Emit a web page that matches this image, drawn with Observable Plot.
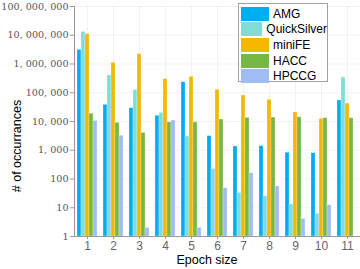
<!DOCTYPE html>
<html>
<head>
<meta charset="utf-8">
<script src="https://cdn.jsdelivr.net/npm/d3@7"></script>
<script src="https://cdn.jsdelivr.net/npm/@observablehq/plot@0.6"></script>
<style>
  body { margin: 0; background: #fff; }
  #wrap { position: relative; width: 360px; height: 269px; font-family: "Liberation Sans", Arial, sans-serif; }
  #legend { position: absolute; left: 238px; top: 3px; width: 90px; height: 79px; border: 1px solid #a0a0a0; background: #fff; box-sizing: border-box; padding: 2px 0 0 2px; }
  .row { display: flex; align-items: center; height: 15.6px; }
  .sw { width: 28px; height: 14px; margin-right: 4px; }
  .lab { font-size: 12px; color: #000; }
  #ytitle { position: absolute; left: 17px; top: 146px; transform: translate(-50%, -50%) rotate(-90deg); white-space: nowrap; font-size: 12.5px; color: #000; }
  #xtitle { position: absolute; left: 207px; top: 260px; transform: translate(-50%, -50%); white-space: nowrap; font-size: 12.5px; line-height: 13px; color: #000; }
</style>
</head>
<body>
<div id="wrap">
  <div id="chart"></div>
  <div id="legend"></div>
  <div id="ytitle"># of occurrances</div>
  <div id="xtitle">Epoch size</div>
</div>
<script>
const epochs = [1, 2, 3, 4, 5, 6, 7, 8, 9, 10, 11];
const series = ["AMG", "QuickSilver", "miniFE", "HACC", "HPCCG"];
const colors = ["#00aeef", "#80ddd6", "#f5b800", "#76b843", "#9fbdf3"];
const amg =         [3100000, 38000, 29000, 15800, 234000, 3100, 1350, 1400, 820, 790, 53700];
const quicksilver = [13000000, 400000, 123000, 20000, 3000, 225, 33, 25, 13, 6.2, 340000];
const minife =      [11000000, 1100000, 2200000, 295000, 360000, 126000, 80000, 57000, 20600, 12400, 42000];
const hacc =        [18600, 9000, 4000, 9300, 9300, 11700, 13400, 13800, 14000, 13000, 13000];
const hpccg =       [10500, 3200, 2, 10800, 2, 48, 160, 55, 4.1, 12.3, null];
const yTicks = [1, 10, 100, 1000, 10000, 100000, 1000000, 10000000, 100000000];

const valuesBySeries = [amg, quicksilver, minife, hacc, hpccg];
const rows = [];
epochs.forEach((e, i) => {
  series.forEach((s, j) => {
    const v = valuesBySeries[j][i];
    if (v != null) rows.push({epoch: e, series: s, value: v});
  });
});

const fmt = d => d3.format(",")(d).replace(/,/g, ", ");

const chart = Plot.plot({
  width: 360,
  height: 269,
  marginTop: 6,
  marginBottom: 33,
  marginLeft: 74,
  marginRight: 0,
  fx: {domain: epochs, padding: 0, label: null},
  x: {domain: series, axis: null, paddingInner: 0, paddingOuter: 0.75},
  y: {type: "log", domain: [1, 1e8]},
  color: {domain: series, range: colors},
  marks: [
    Plot.gridY(yTicks, {stroke: "#000", strokeOpacity: 0.05}),
    Plot.gridFx({stroke: "#000", strokeOpacity: 0.05}),
    Plot.barY(rows, {fx: "epoch", x: "series", y1: 1, y2: "value", fill: "series", stroke: "#fff", strokeOpacity: 0.45, strokeWidth: 0.6}),
    Plot.axisY(yTicks, {tickFormat: fmt, tickSize: 4, tickPadding: 2, stroke: "#999", fill: "#555", fontSize: 9.6, fontFamily: "DejaVu Serif", label: null}),
    Plot.axisFx({anchor: "bottom", tickSize: 3, tickPadding: 2, stroke: "#999", fill: "#666", fontSize: 12, fontFamily: "Liberation Sans", label: null}),
    Plot.frame({anchor: "left", facetAnchor: "left", stroke: "#999"}),
    Plot.frame({anchor: "bottom", stroke: "#999"})
  ]
});
document.getElementById("chart").appendChild(chart);

const legend = document.getElementById("legend");
series.forEach((s, j) => {
  const row = document.createElement("div");
  row.className = "row";
  const sw = document.createElement("div");
  sw.className = "sw";
  sw.style.background = colors[j];
  const lab = document.createElement("span");
  lab.className = "lab";
  lab.textContent = s;
  row.appendChild(sw);
  row.appendChild(lab);
  legend.appendChild(row);
});
</script>
</body>
</html>
